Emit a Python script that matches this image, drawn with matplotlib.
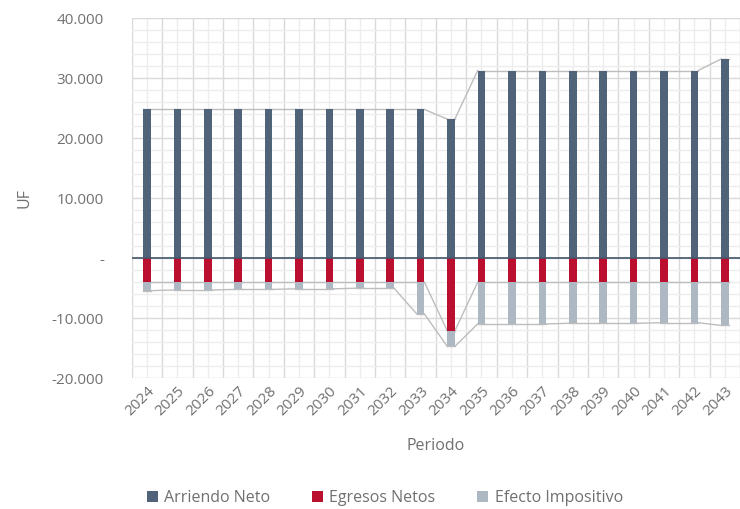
import matplotlib
matplotlib.use("Agg")
import matplotlib.pyplot as plt
from matplotlib.ticker import FuncFormatter, MultipleLocator
import numpy as np

plt.rcParams['font.family'] = ['Open Sans', 'DejaVu Sans']

periodos = [str(y) for y in range(2024, 2044)]
arriendo_neto = [24800] * 10 + [23200] + [31300] * 8 + [33200]
egresos_netos = [-4000] * 10 + [-12100] + [-4000] * 9
efecto_impositivo = [-1400, -1300, -1300, -1200, -1200, -1100, -1100, -1000, -1000,
                     -5300, -2600, -6950, -6950, -6950, -6850, -6850, -6850,
                     -6750, -6750, -7200]

c_arriendo = '#506378'
c_egresos = '#ba0f2e'
c_efecto = '#aeb8c3'
c_serie = '#bdbdbd'
c_text = '#707070'

x = np.arange(len(periodos))
arr = np.array(arriendo_neto)
egr = np.array(egresos_netos)
efe = np.array(efecto_impositivo)
w = 0.25

fig = plt.figure(figsize=(7.4, 5.09), dpi=100)
ax = fig.add_axes([0.178, 0.257, 0.822, 0.707])

# grid: major every 10.000 / category boundary, minor every 2.000 / category center
ax.set_ylim(-20000, 40000)
ax.set_xlim(-0.5, 19.12)
ax.yaxis.set_major_locator(MultipleLocator(10000))
ax.yaxis.set_minor_locator(MultipleLocator(2000))
ax.set_xticks(x)
ax.set_xticks(np.arange(-0.5, 20, 1.0), minor=True)
ax.grid(which='major', axis='y', color='#d9d9d9', lw=1.0, zorder=0)
ax.grid(which='minor', axis='y', color='#ededed', lw=1.0, zorder=0)
ax.grid(which='minor', axis='x', color='#d9d9d9', lw=1.0, zorder=0)
ax.grid(which='major', axis='x', color='#ededed', lw=1.0, zorder=0)
ax.set_axisbelow(True)

ax.bar(x, arr, w, color=c_arriendo, label='Arriendo Neto', zorder=3)
ax.bar(x, egr, w, color=c_egresos, label='Egresos Netos', zorder=3)
ax.bar(x, efe, w, bottom=egr, color=c_efecto, label='Efecto Impositivo', zorder=3)

# series lines between the ends of consecutive stacks
for ends in (arr, egr, egr + efe):
    for i in range(len(x) - 1):
        ax.plot([x[i] + w / 2, x[i + 1] - w / 2], [ends[i], ends[i + 1]],
                color=c_serie, lw=1.0, zorder=2)
    for i in range(len(x)):
        ax.plot([x[i] - w / 2, x[i] + w / 2], [ends[i], ends[i]],
                color=c_serie, lw=1.0, zorder=2)

ax.axhline(0, color='#44546a', lw=1.2, zorder=4)

for s in ax.spines.values():
    s.set_visible(False)

fmt = FuncFormatter(lambda v, p: '-' if v == 0 else f'{v:,.0f}'.replace(',', '.'))
ax.yaxis.set_major_formatter(fmt)
ax.tick_params(which='both', length=0)
ax.tick_params(axis='y', labelsize=11, labelcolor=c_text, pad=20)
ax.set_xticklabels(periodos, rotation=45, ha='right', rotation_mode='anchor',
                   fontsize=11, color=c_text)
ax.tick_params(axis='x', pad=4)

ax.set_ylabel('UF', fontsize=11.5, color=c_text, labelpad=14)
ax.set_xlabel('Periodo', fontsize=11.5, color=c_text, labelpad=14)

fig.legend(loc='center', bbox_to_anchor=(0.52, 0.022), ncol=3, frameon=False,
           fontsize=11.5, labelcolor=c_text, handlelength=0.7, handleheight=0.7,
           handletextpad=0.4, columnspacing=2.6)

fig.savefig('out.png', dpi=100)
